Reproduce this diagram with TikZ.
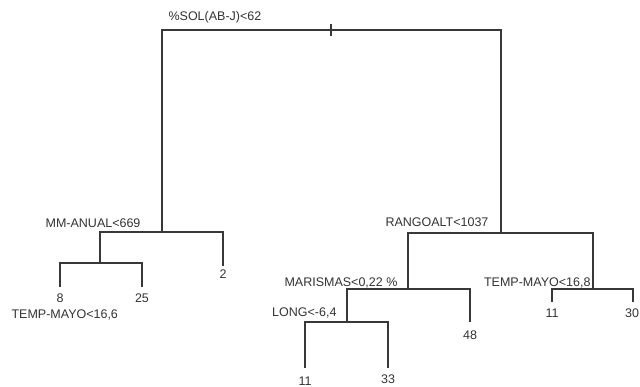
\documentclass[tikz,border=0pt]{standalone}
\usepackage{fontspec}
\setmainfont{Liberation Sans}
\begin{document}
\begin{tikzpicture}[x=1pt,y=-1pt, line width=1.1pt,
  branch/.style={draw=black!78, line width=1.1pt},
  lbl/.style={font=\fontsize{12.5}{14}\selectfont, text=black!80, inner sep=0pt},
  leaf/.style={lbl, anchor=north}]
\fill[white] (0,0) rectangle (640,387);
\useasboundingbox (0,0) rectangle (640,387);
% split points and leaf tips
\coordinate (root) at (331,30);
\coordinate (n1) at (162,232);
\coordinate (n2) at (100,263);
\coordinate (t8) at (60,287);
\coordinate (t25) at (142,287);
\coordinate (t2) at (223,266);
\coordinate (n3) at (501,233);
\coordinate (n4) at (408,289);
\coordinate (n5) at (347,322);
\coordinate (t11a) at (305,368);
\coordinate (t33) at (388,368);
\coordinate (t48) at (470,322);
\coordinate (n6) at (593,289);
\coordinate (t11b) at (552,302);
\coordinate (t30) at (633,302);
% branches
\draw[branch] (n1) |- (root) -| (n3);
\draw[branch] (root) ++(0,-6) -- ++(0,12);
\draw[branch] (n2) |- (n1) -| (t2);
\draw[branch] (t8) |- (n2) -| (t25);
\draw[branch] (n4) |- (n3) -| (n6);
\draw[branch] (n5) |- (n4) -| (t48);
\draw[branch] (t11a) |- (n5) -| (t33);
\draw[branch] (t11b) |- (n6) -| (t30);
% split labels
\node[lbl, anchor=base west] (lroot) at (168,21) {\%SOL(AB-J)<62};
\node[lbl, anchor=base east] (l1) at (141,228) {MM-ANUAL<669};
\node[lbl, anchor=base west] (l2) at (11,319) {TEMP-MAYO<16,6};
\node[lbl, anchor=base east] (l3) at (489,227) {RANGOALT<1037};
\node[lbl, anchor=base east] (l4) at (398,287) {MARISMAS<0,22 \%};
\node[lbl, anchor=base east] (l5) at (591,287) {TEMP-MAYO<16,8};
\node[lbl, anchor=base east] (l6) at (337,317) {LONG<-6,4};
% leaves
\node[leaf] (v8) at (60,293) {8};
\node[leaf] (v25) at (142,293) {25};
\node[leaf] (v2) at (223,269) {2};
\node[leaf] (v11a) at (305,376) {11};
\node[leaf] (v33) at (388,374) {33};
\node[leaf] (v48) at (470,330) {48};
\node[leaf] (v11b) at (552,308) {11};
\node[leaf] (v30) at (632,308) {30};
\end{tikzpicture}
\end{document}
